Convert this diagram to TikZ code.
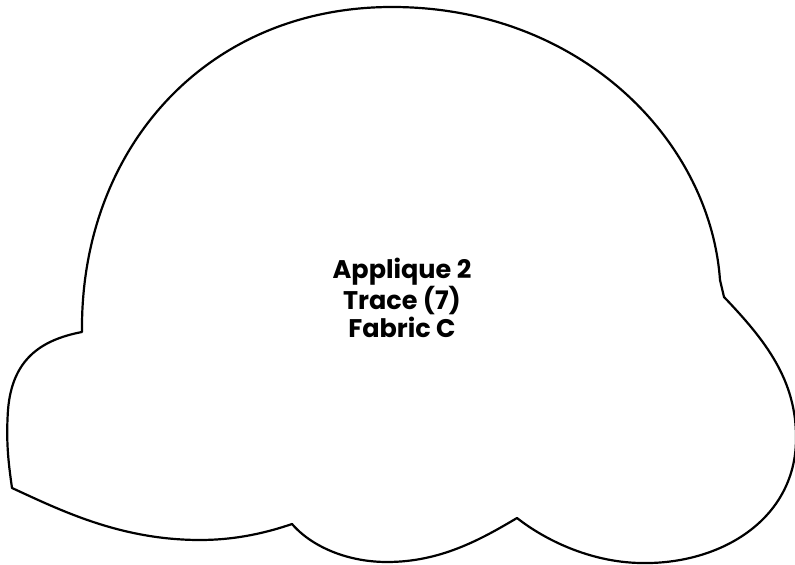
\documentclass[tikz,border=0pt]{standalone}
\usepackage{fontspec}
\setmainfont{Poppins}
\begin{document}
\begin{tikzpicture}[>=latex,line join=round,]
%%
\useasboundingbox (0bp,0bp) rectangle (795bp,565bp);
\draw [black,line width=2.2bp] (82.0bp,233.0bp) ..controls (80.0bp,415.0bp) and (205.0bp,558.0bp) .. (392.0bp,558.0bp)
  ..controls (580.0bp,558.0bp) and (710.0bp,425.0bp) .. (720.0bp,285.0bp)
  -- (724.0bp,268.0bp)
  ..controls (765.0bp,225.0bp) and (797.0bp,185.0bp) .. (796.0bp,125.0bp)
  ..controls (795.0bp,45.0bp) and (720.0bp,0.0bp) .. (640.0bp,2.0bp)
  ..controls (590.0bp,3.0bp) and (545.0bp,25.0bp) .. (517.0bp,47.0bp)
  ..controls (480.0bp,25.0bp) and (440.0bp,3.0bp) .. (387.0bp,3.0bp)
  ..controls (345.0bp,3.0bp) and (310.0bp,20.0bp) .. (292.0bp,41.0bp)
  ..controls (260.0bp,30.0bp) and (230.0bp,25.0bp) .. (200.0bp,25.0bp)
  ..controls (120.0bp,25.0bp) and (60.0bp,55.0bp) .. (12.0bp,77.0bp)
  ..controls (8.0bp,105.0bp) and (6.0bp,125.0bp) .. (8.0bp,155.0bp)
  ..controls (12.0bp,205.0bp) and (40.0bp,225.0bp) .. (82.0bp,233.0bp) -- cycle;
  \node (label_0) at (402.0bp,267.0bp) [draw=none,align=center,font=\fontsize{25.5bp}{28bp}\selectfont\bfseries] {Applique 2\\Trace (7)\\Fabric C};
%
\end{tikzpicture}
\end{document}
